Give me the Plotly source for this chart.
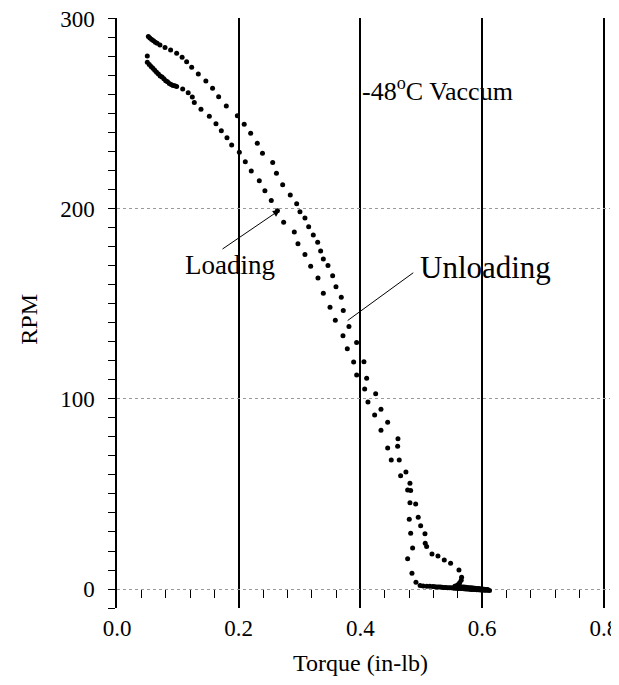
import plotly.graph_objects as go

# ---------------- data ----------------
loading_torque = [
    0.0498, 0.0498, 0.053, 0.056, 0.059, 0.062, 0.065, 0.068, 0.071, 0.074, 0.077,
    0.080, 0.083, 0.086, 0.089, 0.092, 0.095, 0.098,
    0.1079, 0.117, 0.1237, 0.127, 0.138, 0.1517, 0.1626, 0.1714, 0.1807, 0.1884,
    0.201, 0.2108, 0.2206, 0.2338, 0.243, 0.2535, 0.2635, 0.2738, 0.2913, 0.2973,
    0.3088, 0.3182, 0.3302, 0.339, 0.35, 0.3587, 0.3713, 0.3784, 0.3888, 0.3938,
    0.4069, 0.4123, 0.4233, 0.4337, 0.4447, 0.4506, 0.466, 0.4775, 0.4813, 0.4802,
    0.4825, 0.4857, 0.4775, 0.4846, 0.4912,
    0.498, 0.503, 0.509, 0.514, 0.519, 0.522, 0.525, 0.528, 0.531, 0.534, 0.537,
    0.540, 0.543, 0.546, 0.549, 0.552, 0.555, 0.558, 0.561, 0.564, 0.567, 0.570,
    0.573, 0.576, 0.579, 0.582, 0.585, 0.588, 0.591, 0.594, 0.597, 0.600, 0.603,
    0.606, 0.609, 0.612,
]
loading_rpm = [
    280.5, 277.2, 276.0, 275.0, 274.0, 273.0, 272.0, 271.0, 270.0, 269.5, 268.5,
    267.5, 267.0, 266.0, 265.5, 265.0, 264.8, 264.4,
    263.2, 261.2, 258.9, 256.0, 252.5, 248.8, 244.9, 241.2, 237.5, 233.7,
    229.8, 224.9, 220.0, 214.9, 209.6, 204.4, 199.0, 193.0, 187.9, 181.7,
    176.0, 169.8, 163.7, 155.6, 148.3, 141.4, 133.3, 126.5, 119.5, 112.6,
    105.3, 98.4, 91.6, 83.5, 74.2, 67.9, 59.6, 52.1, 45.4, 36.7,
    29.3, 21.6, 15.9, 8.3, 3.5,
    1.8, 1.6, 1.5, 1.4, 1.3, 1.2, 1.1, 1.0, 1.0, 0.9, 0.8,
    0.8, 0.7, 0.6, 0.6, 0.5, 0.4, 0.4, 0.3, 0.2, 0.2, 0.1,
    0.0, 0.0, -0.1, -0.2, -0.2, -0.3, -0.4, -0.4, -0.5, -0.5, -0.6,
    -0.7, -0.7, -0.8,
]

unloading_torque = [
    0.0515, 0.054, 0.057, 0.060, 0.063, 0.066, 0.0706, 0.0789, 0.0881, 0.098,
    0.107, 0.1144, 0.1227, 0.1336, 0.146, 0.157, 0.167, 0.1796, 0.1977, 0.209,
    0.2196, 0.2305, 0.239, 0.2558, 0.262, 0.2722, 0.2847, 0.2952, 0.3006, 0.3088,
    0.3149, 0.3225, 0.3297, 0.3346, 0.339, 0.3466, 0.3543, 0.3598, 0.3685, 0.3718,
    0.3811, 0.3937, 0.4057, 0.4102, 0.425, 0.4337, 0.4447, 0.4616, 0.4611, 0.4637,
    0.4747, 0.4813, 0.4825, 0.4907, 0.4949, 0.4989, 0.506, 0.5064, 0.5087, 0.5175,
    0.5273, 0.5377, 0.5481, 0.5618, 0.5662, 0.5655, 0.563, 0.560, 0.557,
    0.555, 0.558, 0.561, 0.564, 0.567, 0.570, 0.573, 0.576, 0.579, 0.582, 0.585,
    0.588, 0.591, 0.594, 0.597, 0.600, 0.603, 0.606, 0.609, 0.612,
]
unloading_rpm = [
    290.7, 290.0, 289.2, 288.5, 287.8, 287.2, 286.3, 285.0, 283.7, 281.9,
    279.8, 277.5, 274.6, 271.0, 267.4, 263.5, 259.1, 254.2, 249.1, 244.6,
    239.8, 234.6, 229.3, 224.4, 218.8, 212.8, 207.4, 202.8, 198.6, 195.3,
    190.7, 186.3, 182.5, 177.9, 173.7, 170.2, 164.9, 159.1, 153.5, 146.5,
    138.1, 129.7, 119.6, 110.9, 102.8, 94.6, 87.7, 79.1, 75.1, 67.9,
    61.6, 55.6, 51.9, 44.7, 37.7, 33.3, 29.1, 24.1, 22.3, 18.4,
    17.4, 15.3, 13.5, 10.0, 6.2, 4.6, 3.3, 2.3, 1.6,
    1.5, 1.4, 1.3, 1.2, 1.1, 1.0, 0.9, 0.8, 0.7, 0.6,
    0.5, 0.4, 0.3, 0.2, 0.1, 0.0, -0.1, -0.2, -0.3,
]

x_major_ticks = [0.0, 0.2, 0.4, 0.6, 0.8]
x_major_labels = ["0.0", "0.2", "0.4", "0.6", "0.8"]
x_minor_ticks = [0.04, 0.08, 0.12, 0.16, 0.24, 0.28, 0.32, 0.36,
                 0.44, 0.48, 0.52, 0.56, 0.64, 0.68, 0.72, 0.76]
y_ticks = [0, 100, 200, 300]
y_labels = ["0", "100", "200", "300"]

FONT = "Liberation Serif, Times New Roman, serif"
X_RANGE = [0, 0.81]
Y_RANGE = [-10, 300.5]

fig = go.Figure()

fig.add_trace(go.Scatter(
    x=loading_torque, y=loading_rpm, mode="markers", name="Loading",
    marker=dict(color="black", size=5), showlegend=False, cliponaxis=False,
))
fig.add_trace(go.Scatter(
    x=unloading_torque, y=unloading_rpm, mode="markers", name="Unloading",
    marker=dict(color="black", size=5), showlegend=False, cliponaxis=False,
))
# carrier for the minor-tick axis placed at RPM = 0
fig.add_trace(go.Scatter(
    x=[x_minor_ticks[0]], y=[0], xaxis="x2", mode="markers",
    marker=dict(opacity=0), hoverinfo="skip", showlegend=False,
))

# the page body adds an 8 px margin; the figure is a little wider than the
# window so the last tick label is not clipped by the figure edge
fig.update_layout(
    width=625, height=669,
    margin=dict(l=109, r=23, t=10, b=69, autoexpand=False),
    paper_bgcolor="white", plot_bgcolor="white",
    font=dict(family=FONT, color="black", size=23),
    xaxis=dict(
        range=X_RANGE, tickvals=x_major_ticks, ticktext=x_major_labels,
        ticks="", showline=False, zeroline=False, automargin=False,
        showgrid=True, gridcolor="black", gridwidth=1.5,
        tickfont=dict(family=FONT, size=23), ticklabelstandoff=4,
        ticklabeloverflow="allow",
    ),
    xaxis2=dict(
        range=X_RANGE, overlaying="x", anchor="free",
        position=(0 - Y_RANGE[0]) / (Y_RANGE[1] - Y_RANGE[0]),
        side="bottom", tickvals=x_minor_ticks, ticks="outside", ticklen=8,
        tickwidth=1, tickcolor="black", showticklabels=False, automargin=False,
        showgrid=False, showline=False, zeroline=False,
    ),
    yaxis=dict(
        range=Y_RANGE, tickvals=y_ticks, ticktext=y_labels,
        ticks="outside", ticklen=7, tickwidth=1, tickcolor="black",
        minor=dict(dtick=10, ticks="outside", ticklen=7, tickcolor="black",
                   tickwidth=1, showgrid=False),
        showline=True, linecolor="black", linewidth=1.5, automargin=False,
        zeroline=False, showgrid=True, gridcolor="#9a9a9a", gridwidth=1,
        griddash="dot", tickfont=dict(family=FONT, size=23),
        ticklabelstandoff=9, ticklabeloverflow="allow",
    ),
    annotations=[
        dict(x=0.186, y=170.5, xref="x", yref="y", text="Loading",
             xanchor="center", yanchor="middle",
             showarrow=False, font=dict(family=FONT, size=27)),
        dict(x=0.4945, y=169, xref="x", yref="y", text="Unloading",
             xanchor="left", yanchor="middle",
             showarrow=False, font=dict(family=FONT, size=31)),
        dict(x=0.399, y=263, xref="x", yref="y",
             text="-48<sup>o</sup>C Vaccum", xanchor="left", yanchor="middle",
             showarrow=False, font=dict(family=FONT, size=26)),
        dict(x=0.2676, y=199.5, ax=0.1709, ay=178.4, xref="x", yref="y",
             axref="x", ayref="y", text="", showarrow=True, arrowhead=2,
             arrowsize=1.4, arrowwidth=1, arrowcolor="black"),
        dict(x=0.379, y=141.3, ax=0.4892, ay=167, xref="x", yref="y",
             axref="x", ayref="y", text="", showarrow=True, arrowhead=0,
             arrowwidth=1, arrowcolor="black"),
        dict(x=-0.1782, y=0.489, xref="paper", yref="paper", text="RPM",
             xanchor="center", yanchor="middle",
             textangle=-90, showarrow=False, font=dict(family=FONT, size=24)),
        dict(x=0.493, y=-0.0934, xref="paper", yref="paper",
             xanchor="center", yanchor="middle",
             text="Torque (in-lb)", showarrow=False,
             font=dict(family=FONT, size=24)),
    ],
)

fig.write_html(
    "out.html",
    post_script=(
        "document.documentElement.style.overflow='hidden';"
        "document.body.style.overflow='hidden';"
    ),
)
